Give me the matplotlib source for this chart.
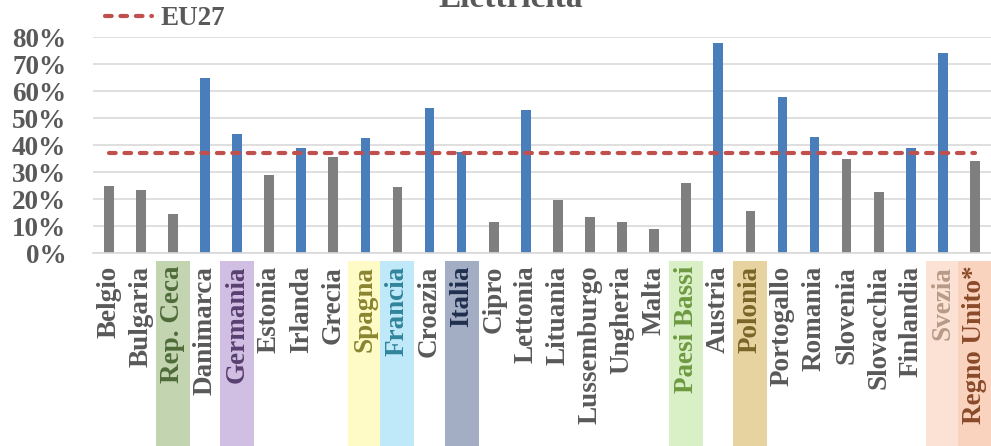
import matplotlib
matplotlib.use('Agg')
import matplotlib.pyplot as plt
import matplotlib.transforms as mtransforms
from matplotlib.patches import Rectangle
from matplotlib.lines import Line2D
import numpy as np

plt.rcParams['font.family'] = 'Liberation Serif'
plt.rcParams['font.weight'] = 'bold'

# share of renewables in electricity
countries = ['Belgio', 'Bulgaria', 'Rep. Ceca', 'Danimarca', 'Germania', 'Estonia',
             'Irlanda', 'Grecia', 'Spagna', 'Francia', 'Croazia', 'Italia', 'Cipro',
             'Lettonia', 'Lituania', 'Lussemburgo', 'Ungheria', 'Malta', 'Paesi Bassi',
             'Austria', 'Polonia', 'Portogallo', 'Romania', 'Slovenia', 'Slovacchia',
             'Finlandia', 'Svezia', 'Regno Unito*']
values = [25.0, 23.4, 14.6, 64.8, 44.4, 29.0, 38.9, 35.8, 42.6, 24.7, 53.7, 37.6, 11.7,
          53.1, 19.7, 13.6, 11.7, 9.0, 26.1, 78.0, 15.8, 57.8, 43.2, 34.8, 22.7, 39.1,
          74.3, 34.3]
eu27 = 37.3
yticks = [0, 10, 20, 30, 40, 50, 60, 70, 80]

# highlighted labels: country -> (box colour, text colour)
highlight = {
    'Rep. Ceca': ('#C3D4B1', '#4F6B3A'),
    'Germania': ('#D0BFE3', '#5A4070'),
    'Spagna': ('#FFFBC7', '#8A8530'),
    'Francia': ('#BFE8F8', '#31849B'),
    'Italia': ('#A3ADC3', '#1F2F4F'),
    'Paesi Bassi': ('#D9EFC6', '#6E9A40'),
    'Polonia': ('#E6D3A0', '#7A6428'),
    'Svezia': ('#FCE2D4', '#B89A88'),
    'Regno Unito*': ('#F9D3BE', '#8A4A2A'),
}

BLUE = '#4A7EBB'
GREY = '#7F7F7F'
TXT = '#595959'
FS = 19.5

fig = plt.figure(figsize=(9.91, 4.46), dpi=100)
ax = fig.add_axes([0.0935, 0.432, 0.9065, 0.484])

x = np.arange(len(countries))
colors = [BLUE if v > eu27 else GREY for v in values]
ax.bar(x, values, width=0.3, color=colors, zorder=2)
ax.plot(x, [eu27] * len(x), color='#C0504D', lw=3, linestyle=(0, (1.6, 2.1)),
        dash_capstyle='round', zorder=3)

ax.set_xlim(-0.5, len(countries) - 0.5)
ax.set_ylim(0, 80)
ax.set_yticks(yticks)
ax.set_yticklabels(['%d%%' % t for t in yticks], fontsize=FS, color=TXT, fontweight='bold')
ax.yaxis.grid(True, color='#D9D9D9', lw=1.2, zorder=0)
ax.tick_params(axis='y', length=0, pad=19)
ax.tick_params(axis='x', length=0, pad=9)
for s in ['top', 'right', 'left']:
    ax.spines[s].set_visible(False)
ax.spines['bottom'].set_color('#D9D9D9')
ax.spines['bottom'].set_linewidth(1.2)

ax.set_xticks(x)
ax.set_xticklabels(countries, rotation=90, fontsize=FS, color=TXT, fontweight='bold')
for lbl, name in zip(ax.get_xticklabels(), countries):
    if name in highlight:
        lbl.set_color(highlight[name][1])

# coloured boxes behind some labels
trans = mtransforms.blended_transform_factory(ax.transData, ax.transAxes)
for i, name in enumerate(countries):
    if name in highlight:
        r = Rectangle((i - 0.53, -1.0), 1.06, 1.0 - 0.035, transform=trans,
                      facecolor=highlight[name][0], edgecolor='none',
                      clip_on=False, zorder=0)
        ax.add_patch(r)

handle = Line2D([0], [0], color='#C0504D', lw=3, linestyle=(0, (1.6, 2.1)),
                dash_capstyle='round')
leg = fig.legend([handle], ['EU27'], loc='center left', bbox_to_anchor=(0.106, 0.958),
                 frameon=False, handlelength=1.75, handletextpad=0.3,
                 prop={'family': 'Liberation Serif', 'weight': 'bold', 'size': FS},
                 borderpad=0, borderaxespad=0)
for t in leg.get_texts():
    t.set_color(TXT)

# title is partly cut off at the top edge, as in the source image
fig.text(0.515, 0.984, 'Elettricità', ha='center', va='baseline', fontsize=24,
         fontweight='bold', color=TXT)

fig.savefig('out.png', dpi=100)
